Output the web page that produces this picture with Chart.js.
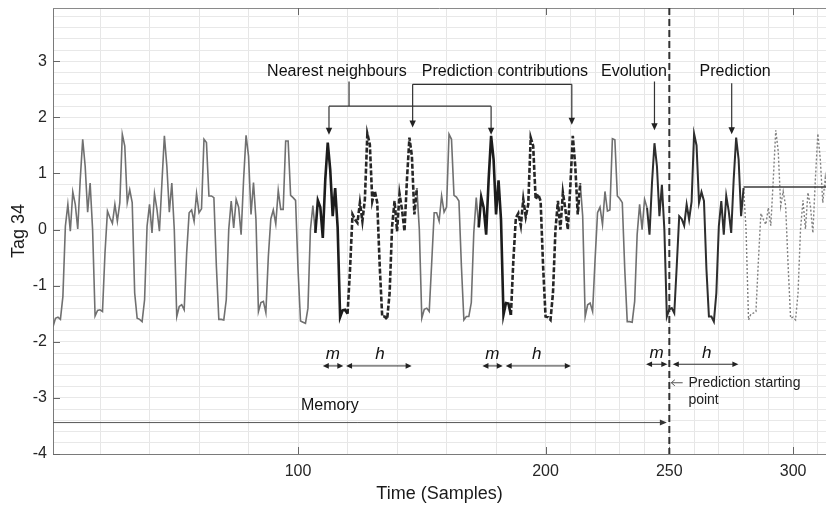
<!DOCTYPE html>
<html><head><meta charset="utf-8">
<script src="https://cdn.jsdelivr.net/npm/chart.js@4.4.1/dist/chart.umd.min.js"></script>
<style>html,body{margin:0;padding:0;background:#fff;}canvas{display:block;}</style>
</head><body>
<canvas id="c" width="826" height="505"></canvas>
<script>
// ---- data (Tag 34, one value per sample, samples 1..280) ----
const firstSample = 1;
const observed = [
 -1.73,-1.58,-1.56,-1.60,-1.19, 0.06, 0.45,-0.03, 0.67, 0.45,
  0.01, 0.89, 1.61, 1.13, 0.31, 0.83, 0.00,-1.54,-1.44,-1.43,
 -1.46,-0.42, 0.33, 0.21, 0.11, 0.45, 0.15, 0.48, 1.70, 1.49,
  0.48, 0.71, 0.48,-1.13,-1.58,-1.60,-1.64,-1.25, 0.06, 0.45,
 -0.06, 0.64, 0.36,-0.03, 0.83, 1.67, 1.13, 0.31, 0.83, 0.00,
 -1.55,-1.37,-1.34,-1.43,-0.42, 0.30, 0.35, 0.15, 0.64, 0.30,
  0.37, 1.61, 1.55, 0.60, 0.60, 0.57,-0.65,-1.60,-1.60,-1.61,
 -1.25, 0.00, 0.51, 0.03, 0.54, 0.40,-0.09, 0.89, 1.68, 1.31,
  0.27, 0.84, 0.18,-1.46,-1.30,-1.28,-1.48,-0.48, 0.19, 0.35,
  0.10, 0.70, 0.36, 0.36, 1.58, 1.58, 0.61, 0.57, 0.52,-0.71,
 -1.63,-1.65,-1.67,-1.40, 0.00, 0.43,-0.06, 0.52, 0.40,-0.15,
  0.89, 1.55, 1.07, 0.24, 0.74, 0.04,-1.56,-1.44,-1.43,-1.50,
 -0.71, 0.27, 0.18, 0.12, 0.48, 0.15, 0.54, 1.71, 1.52, 0.51,
  0.69, 0.48,-0.65,-1.55,-1.55,-1.60,-1.13, 0.06, 0.51,-0.03,
  0.64, 0.36,-0.03, 0.89, 1.64, 1.31, 0.27, 0.74, 0.00,-1.58,
 -1.42,-1.40,-1.46,-0.59, 0.30, 0.30, 0.15, 0.60, 0.31, 0.40,
  1.70, 1.61, 0.61, 0.58, 0.51,-0.65,-1.61,-1.55,-1.55,-1.30,
 -0.06, 0.57, 0.04, 0.58, 0.39,-0.09, 0.89, 1.67, 1.25, 0.27,
  0.88, 0.18,-1.52,-1.31,-1.32,-1.52,-0.54, 0.21, 0.29, 0.07,
  0.54, 0.23, 0.45, 1.64, 1.49, 0.54, 0.63, 0.51,-0.65,-1.55,
 -1.56,-1.61,-1.13, 0.00, 0.51, 0.00, 0.66, 0.36, 0.00, 0.77,
  1.67, 1.13, 0.27, 0.83, 0.24,-1.55,-1.34,-1.31,-1.46,-0.54,
  0.30, 0.40, 0.09, 0.68, 0.33, 0.35, 1.62, 1.60, 0.60, 0.55,
  0.48,-0.71,-1.64,-1.64,-1.65,-1.28,-0.09, 0.45, 0.00, 0.54,
  0.39,-0.09, 0.83, 1.54, 1.13, 0.24, 0.80, 0.00,-1.55,-1.42,
 -1.40,-1.49,-0.65, 0.24, 0.19, 0.07, 0.45, 0.18, 0.50, 1.71,
  1.50, 0.48, 0.67, 0.51,-0.71,-1.55,-1.55,-1.64,-1.13, 0.06,
  0.51,-0.09, 0.60, 0.33,-0.06, 0.89, 1.64, 1.25, 0.24, 0.74
];
// dotted continuation, samples 280..314
const predictionStart = 280;
const predicted = [
  0.74, 0.00,-1.61,-1.50,-1.49,-1.46,-0.54, 0.29, 0.18, 0.09,
  0.39, 0.07, 0.89, 1.77, 1.40, 0.42, 0.68, 0.42,-0.65,-1.58,
 -1.56,-1.61,-1.13, 0.00, 0.52, 0.01, 0.66, 0.42,-0.06, 0.89,
  1.71, 1.25, 0.48, 0.92, 0.50
];
const predictionLevel = 0.76;
const predictionEnd = 314;
const memoryRanges = [[1,107],[148,173],[214,241]];
const neighbourRanges = [[107,120],[173,186]];
const contributionRanges = [[120,148],[186,214]];
const evolutionRange = [241,280];
const startingPoint = 250;
const xTickLabels = [100,200,250,300];
const yTickLabels = [-4,-3,-2,-1,0,1,2,3];
const xGridLines = [20,40,60,80,100,120,140,160,180,200,210,220,230,240,250,260,270,280,290,300,310];
const xMin = 1, xMax = 313.3, yMin = -4, yMax = 3.95;

function pts(r){const o=[];for(let s=r[0];s<=r[1];s++)o.push({x:s,y:observed[s-firstSample]});return o;}

const base = {pointRadius:0,fill:false,tension:0};
const datasets = [];
memoryRanges.forEach(r=>datasets.push({...base,data:pts(r),borderColor:'#707070',borderWidth:1.6,order:5}));
neighbourRanges.forEach(r=>datasets.push({...base,data:pts(r),borderColor:'#1c1c1c',borderWidth:2.6,order:1}));
contributionRanges.forEach(r=>datasets.push({...base,data:pts(r),borderColor:'#262626',borderWidth:2.6,borderDash:[5,2],order:1}));
datasets.push({...base,data:pts(evolutionRange),borderColor:'#2e2e2e',borderWidth:2,order:2});
datasets.push({...base,data:predicted.map((v,i)=>({x:predictionStart+i,y:v})),borderColor:'#808080',borderWidth:1.4,borderDash:[2,2],order:4});
datasets.push({...base,data:[{x:predictionStart,y:predictionLevel},{x:predictionEnd,y:predictionLevel}],borderColor:'#3a3a3a',borderWidth:1.5,order:3});

const FONT = '"Liberation Sans", Arial, Helvetica, sans-serif';

function head(ctx,x,y,ang,len,half){
  ctx.beginPath();
  ctx.moveTo(x,y);
  ctx.lineTo(x-len*Math.cos(ang)+half*Math.sin(ang), y-len*Math.sin(ang)-half*Math.cos(ang));
  ctx.lineTo(x-len*Math.cos(ang)-half*Math.sin(ang), y-len*Math.sin(ang)+half*Math.cos(ang));
  ctx.closePath(); ctx.fill();
}
function noPad(s){s.paddingTop=0;s.paddingBottom=0;s.paddingLeft=0;s.paddingRight=0;}

const annot = {
  id:'annot',
  afterDraw(chart){
    const ctx=chart.ctx, a=chart.chartArea, xs=chart.scales.x, ys=chart.scales.y;
    const X=v=>xs.getPixelForValue(v), Y=v=>ys.getPixelForValue(v);
    ctx.save();
    // top border
    ctx.strokeStyle='#8a8a8a'; ctx.lineWidth=1;
    ctx.beginPath(); ctx.moveTo(a.left,a.top+0.5); ctx.lineTo(a.right,a.top+0.5); ctx.stroke();
    // inward ticks
    ctx.strokeStyle='#666';
    xTickLabels.forEach(v=>{const px=Math.round(X(v))+0.5;ctx.beginPath();ctx.moveTo(px,a.bottom);ctx.lineTo(px,a.bottom-7);ctx.moveTo(px,a.top);ctx.lineTo(px,a.top+7);ctx.stroke();});
    yTickLabels.forEach(v=>{const py=Math.round(Y(v))+0.5;ctx.beginPath();ctx.moveTo(a.left,py);ctx.lineTo(a.left+7,py);ctx.stroke();});
    // prediction starting line
    ctx.strokeStyle='#333'; ctx.lineWidth=2; ctx.setLineDash([7,4]);
    ctx.beginPath(); ctx.moveTo(X(startingPoint),a.top); ctx.lineTo(X(startingPoint),a.bottom); ctx.stroke();
    ctx.setLineDash([]);
    // upper labels
    ctx.fillStyle='#111'; ctx.font='16px '+FONT; ctx.textAlign='center'; ctx.textBaseline='middle';
    ctx.fillText('Nearest neighbours',X(115.7),Y(2.82));
    ctx.fillText('Prediction contributions',X(183.6),Y(2.82));
    ctx.fillText('Evolution',X(235.7),Y(2.82));
    ctx.fillText('Prediction',X(276.6),Y(2.82));
    // brackets and arrows
    ctx.strokeStyle='#333'; ctx.fillStyle='#222'; ctx.lineWidth=1.2;
    const down=(x,y1,y2)=>{ctx.beginPath();ctx.moveTo(X(x),Y(y1));ctx.lineTo(X(x),Y(y2)-5);ctx.stroke();head(ctx,X(x),Y(y2),Math.PI/2,7,3.2);};
    ctx.beginPath();ctx.moveTo(X(120.6),Y(2.64));ctx.lineTo(X(120.6),Y(2.20));ctx.moveTo(X(112.5),Y(2.20));ctx.lineTo(X(178),Y(2.20));ctx.stroke();
    down(112.5,2.20,1.69); down(178,2.20,1.69);
    ctx.beginPath();ctx.moveTo(X(146.3),Y(2.59));ctx.lineTo(X(210.6),Y(2.59));ctx.stroke();
    down(146.3,2.59,1.82); down(210.6,2.59,1.87);
    down(244,2.64,1.77);
    down(275.2,2.61,1.70);
    // m / h double arrows
    ctx.lineWidth=1; ctx.strokeStyle='#333';
    const dbl=(x1,x2,y)=>{const p1=X(x1),p2=X(x2),py=Y(y);ctx.beginPath();ctx.moveTo(p1+3,py);ctx.lineTo(p2-3,py);ctx.stroke();head(ctx,p1,py,Math.PI,6,2.8);head(ctx,p2,py,0,6,2.8);};
    dbl(110,118.3,-2.43); dbl(119.4,145.9,-2.43);
    dbl(174.5,182.7,-2.43); dbl(183.9,210.2,-2.43);
    dbl(240.6,249.2,-2.40); dbl(251.4,277.9,-2.40);
    ctx.fillStyle='#111'; ctx.font='italic 17px '+FONT;
    ctx.fillText('m',X(114.1),Y(-2.23)); ctx.fillText('h',X(133.1),Y(-2.23));
    ctx.fillText('m',X(178.5),Y(-2.23)); ctx.fillText('h',X(196.4),Y(-2.23));
    ctx.fillText('m',X(244.9),Y(-2.20)); ctx.fillText('h',X(265.1),Y(-2.20));
    // prediction starting point note
    ctx.strokeStyle='#555'; ctx.lineWidth=1;
    const ay=Y(-2.73);
    ctx.beginPath();ctx.moveTo(X(255.4),ay);ctx.lineTo(X(250.8),ay);
    ctx.moveTo(X(250.8)+3.5,ay-3);ctx.lineTo(X(250.8),ay);ctx.lineTo(X(250.8)+3.5,ay+3);ctx.stroke();
    ctx.fillStyle='#222'; ctx.font='14px '+FONT; ctx.textAlign='left';
    ctx.fillText('Prediction starting',X(257.7),ay);
    ctx.fillText('point',X(257.7),Y(-3.04));
    // memory
    ctx.font='16px '+FONT; ctx.fillStyle='#111';
    ctx.fillText('Memory',X(101.2),Y(-3.14));
    ctx.strokeStyle='#555'; ctx.fillStyle='#333';
    ctx.beginPath();ctx.moveTo(a.left,Y(-3.44));ctx.lineTo(X(249)-4,Y(-3.44));ctx.stroke();
    head(ctx,X(249),Y(-3.44),0,7,3);
    ctx.restore();
  }
};

new Chart(document.getElementById('c'),{
  type:'line',
  data:{datasets},
  options:{
    responsive:false, animation:false, events:[],
    layout:{padding:{top:8,right:0,left:0,bottom:0}},
    plugins:{legend:{display:false},tooltip:{enabled:false}},
    scales:{
      x:{type:'linear',min:xMin,max:xMax,
        afterBuildTicks:s=>{s.ticks=xGridLines.map(v=>({value:v}));},
        afterFit:s=>{s.height=51;noPad(s);},
        grid:{color:'#e6e6e6',lineWidth:1,drawTicks:false},
        border:{display:true,color:'#7a7a7a',width:1},
        ticks:{autoSkip:false,maxRotation:0,padding:8,color:'#262626',font:{family:FONT,size:16},
          callback:v=>xTickLabels.includes(v)?String(v):''},
        title:{display:true,text:'Time (Samples)',color:'#1a1a1a',font:{family:FONT,size:18},padding:{top:0,bottom:0}}
      },
      y:{type:'linear',min:yMin,max:yMax,
        afterBuildTicks:s=>{const t=[];for(let k=-20;k<=19;k++)t.push({value:k/5});s.ticks=t;},
        afterFit:s=>{s.width=53;noPad(s);},
        grid:{color:'#e8e8e8',lineWidth:1,drawTicks:false},
        border:{display:true,color:'#7a7a7a',width:1},
        ticks:{autoSkip:false,padding:6,color:'#262626',font:{family:FONT,size:16},
          callback:v=>{const r=Math.round(v);return (Math.abs(v-r)<1e-6&&yTickLabels.includes(r))?String(r):'';}},
        title:{display:true,text:'Tag 34',color:'#1a1a1a',font:{family:FONT,size:18},padding:{top:8,bottom:0}}
      }
    }
  },
  plugins:[annot]
});
</script>
</body></html>
